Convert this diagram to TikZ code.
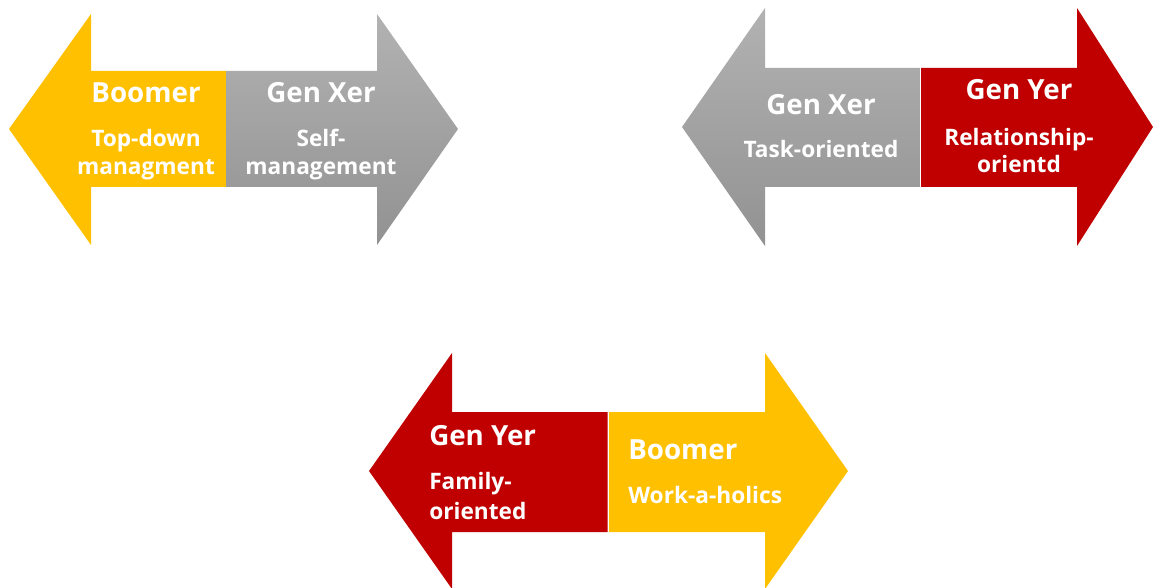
\documentclass[tikz,border=0pt]{standalone}
\usepackage{fontspec}
\newfontfamily\opensans{Open Sans}
\usetikzlibrary{positioning}
\definecolor{genyred}{RGB}{192,0,0}
\definecolor{boomgold}{RGB}{255,192,0}
\definecolor{genxtop}{RGB}{178,178,178}
\definecolor{genxbot}{RGB}{146,146,146}
\tikzset{
  redhalf/.style  = {fill=genyred},
  goldhalf/.style = {fill=boomgold},
  grayhalf/.style = {top color=genxtop, bottom color=genxbot, draw=none},
  gentitle/.style = {text=white, font=\opensans\bfseries\fontsize{20.8}{25}\selectfont,
                     inner sep=0pt},
  gentrait/.style = {text=white, font=\opensans\bfseries\fontsize{17}{21}\selectfont,
                     inner sep=0pt},
}
\begin{document}
\begin{tikzpicture}[x=0.75pt, y=-0.75pt]
  \useasboundingbox (0,0) rectangle (1153,588);
  % Boomer vs Gen Xer (top left)
  \fill[goldhalf] (9,129) -- (91,14) -- (91,71) -- (226,71) -- (226,187)
    -- (91,187) -- (91,245) -- cycle;
  \shade[grayhalf] (458,129) -- (377,14) -- (377,71) -- (226,71) -- (226,187)
    -- (377,187) -- (377,245) -- cycle;
  \node[gentitle, anchor=base] (boomA) at (146,103) {Boomer};
  \node[gentrait, anchor=base] (boomAt) at (146,147) {Top-down};
  \node[gentrait, anchor=base] (boomAt2) at (146,175) {managment};
  \node[gentitle, anchor=base] (genxA) at (321,103) {Gen Xer};
  \node[gentrait, anchor=base] (genxAt) at (321,147) {Self-};
  \node[gentrait, anchor=base] (genxAt2) at (321,175) {management};
  % Gen Xer vs Gen Yer (top right)
  \shade[grayhalf] (682,127) -- (765,8) -- (765,68) -- (919.5,68) -- (919.5,187)
    -- (765,187) -- (765,246) -- cycle;
  \fill[redhalf] (1153,127) -- (1077,8) -- (1077,68) -- (921,68) -- (921,187)
    -- (1077,187) -- (1077,246) -- cycle;
  \node[gentitle, anchor=base] (genxB) at (821,115) {Gen Xer};
  \node[gentrait, anchor=base] (genxBt) at (821,158) {Task-oriented};
  \node[gentitle, anchor=base] (genyB) at (1019,100) {Gen Yer};
  \node[gentrait, anchor=base] (genyBt) at (1019,146) {Relationship-};
  \node[gentrait, anchor=base] (genyBt2) at (1019,173) {orientd};
  % Gen Yer vs Boomer (bottom)
  \fill[redhalf] (369,471) -- (452,353) -- (452,412) -- (607.5,412) -- (607.5,532)
    -- (452,532) -- (452,589) -- cycle;
  \fill[goldhalf] (848,471) -- (765,353) -- (765,412) -- (609,412) -- (609,532)
    -- (765,532) -- (765,589) -- cycle;
  \node[gentitle, anchor=base west] (genyC) at (429,445) {Gen Yer};
  \node[gentrait, anchor=base west] (genyCt) at (429,489) {Family-};
  \node[gentrait, anchor=base west] (genyCt2) at (429,519) {oriented};
  \node[gentitle, anchor=base west] (boomC) at (628,459) {Boomer};
  \node[gentrait, anchor=base west] (boomCt) at (628,503) {Work-a-holics};
\end{tikzpicture}
\end{document}
